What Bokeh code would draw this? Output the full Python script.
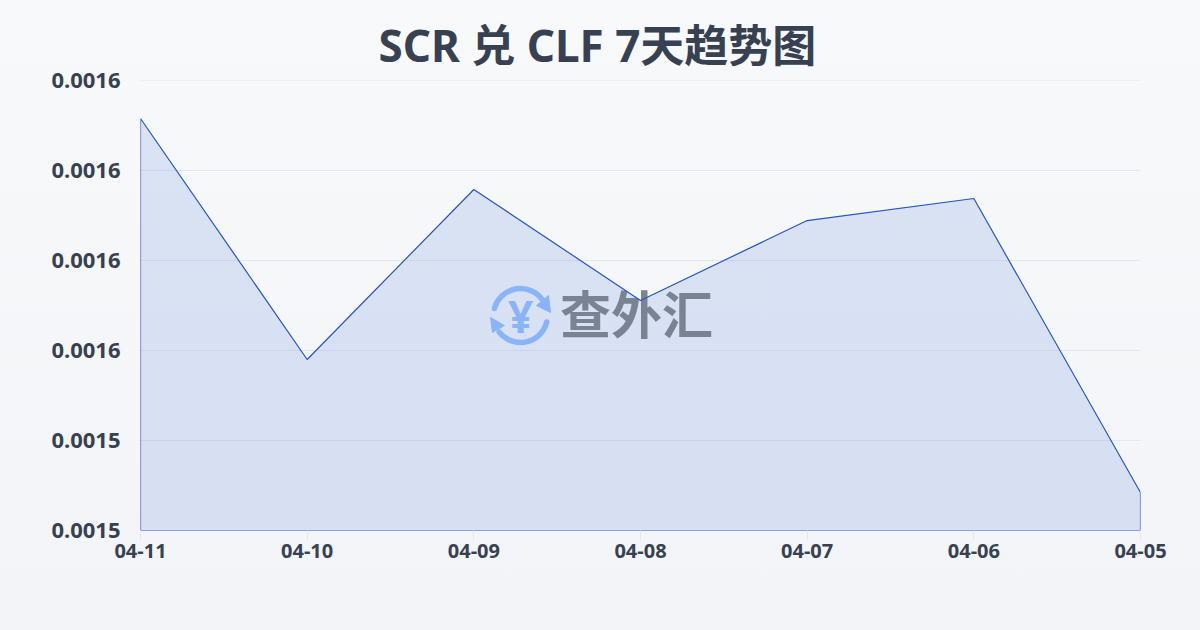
from bokeh.plotting import figure
from bokeh.embed import file_html
from bokeh.resources import INLINE
from bokeh.core.properties import value
from bokeh.models import Range1d, FixedTicker

dates = ["04-11", "04-10", "04-09", "04-08", "04-07", "04-06", "04-05"]
rates = [0.00157578, 0.00154900, 0.00156789, 0.00155556, 0.00156444, 0.00156689, 0.00153422]
y_ticks = [0.00153, 0.00154, 0.00155, 0.00156, 0.00157, 0.00158]
y_labels = ["0.0015", "0.0015", "0.0016", "0.0016", "0.0016", "0.0016"]
title_text = "SCR 兑 CLF 7天趋势图"
watermark = "查外汇"

TEXT = "#374151"
BLUE = "#2455c0"
FONT = "Noto Sans CJK SC"
idx = list(range(len(dates)))

p = figure(width=1200, height=630, output_backend="svg", toolbar_location=None,
           x_range=Range1d(0, 6), y_range=Range1d(y_ticks[0], y_ticks[-1] + 1e-9),
           min_border_left=140, min_border_right=60, min_border_top=80, min_border_bottom=100)
p.background_fill_alpha = 0
p.border_fill_alpha = 0
p.outline_line_color = None
p.extra_x_ranges["px"] = Range1d(140, 1140)
p.extra_y_ranges["px"] = Range1d(100, 550)

p.title.text = title_text
p.title.align = "left"
p.title.offset = 238
p.title.text_font = "Noto Sans, 'Noto Sans CJK SC'"
p.title.text_font_style = "bold"
p.title.text_font_size = "44px"
p.title.text_color = TEXT
p.title.standoff = 11

p.xaxis.ticker = FixedTicker(ticks=idx)
p.xaxis.major_label_overrides = dict(zip(idx, dates))
p.xaxis.major_label_text_font = "Noto Sans"
p.xaxis.major_label_text_font_style = "bold"
p.xaxis.major_label_text_font_size = "20px"
p.xaxis.major_label_text_color = TEXT
p.xaxis.major_label_standoff = 3
p.xaxis.axis_line_color = None
p.xaxis.major_tick_line_color = "#e5e7eb"
p.xaxis.major_tick_out = 10
p.xaxis.major_tick_in = 0
p.xaxis.minor_tick_line_color = None

p.yaxis.ticker = FixedTicker(ticks=y_ticks)
p.yaxis.major_label_overrides = dict(zip(y_ticks, y_labels))
p.yaxis.major_label_text_font = "Noto Sans"
p.yaxis.major_label_text_font_style = "bold"
p.yaxis.major_label_text_font_size = "22px"
p.yaxis.major_label_text_color = TEXT
p.yaxis.major_label_standoff = 14
p.yaxis.axis_line_color = None
p.yaxis.major_tick_line_color = None
p.yaxis.minor_tick_line_color = None

p.xgrid.grid_line_color = None
p.ygrid.ticker = FixedTicker(ticks=y_ticks)
p.ygrid.grid_line_color = "#e2e8f0"
p.ygrid.grid_line_width = 1

base = [y_ticks[0]] * len(rates)
p.varea(x=idx, y1=base, y2=rates, fill_color="#2a62d8", fill_alpha=0.14)

# watermark, positioned in page pixels with y measured upward
LOGO = "#8ab4f8"
R = dict(x_range_name="px", y_range_name="px")
p.arc(x=[520, 520], y=[315, 315], radius=27, start_angle=[32, -142], end_angle=[165, -14],
      start_angle_units="deg", end_angle_units="deg", line_color=LOGO, line_width=5.5, line_cap="round", **R)
p.patches(xs=[[550, 536, 548], [490, 504, 492]], ys=[[318, 325, 335], [313, 305, 298]],
          fill_color=LOGO, line_color=LOGO, **R)
p.text(x=[520], y=[315], text=["¥"], text_font=value("Noto Sans"), text_font_style="bold", text_font_size="44px",
       text_color=LOGO, text_align="center", text_baseline="middle", **R)
p.text(x=[636], y=[319], text=[watermark], text_font=value(FONT), text_font_style="bold",
       text_font_size="51px", text_color="#7a8394", text_align="center", text_baseline="middle", **R)

p.patch(x=[0] + idx + [6], y=[y_ticks[0]] + rates + [y_ticks[0]], fill_alpha=0, line_color=BLUE, line_width=1.2)

template = """{% block postamble %}<style>html,body{margin:0;padding:0;overflow:hidden;height:630px;
background:linear-gradient(180deg,#f8f9fb 0%,#f3f4f7 100%);}</style>{% endblock %}
"""
open("out.html", "w").write(file_html(p, INLINE, template=template))
